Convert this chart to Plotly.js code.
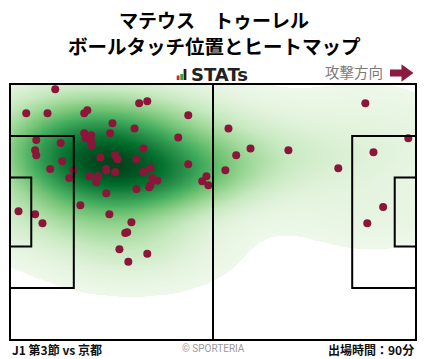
<!DOCTYPE html>
<html><head><meta charset="utf-8">
<script src="https://cdn.plot.ly/plotly-3.0.1.min.js"></script>
<style>html,body{margin:0;padding:0;background:#fff}</style>
</head><body><div id="chart" style="width:428px;height:359px"></div>
<script>
// Ball touch positions (metres; x along 105m pitch, attacking to the right; y from bottom touchline, 68m)
const touchX = [11.7,4.2,9.7,19.2,20.0,33.4,35.5,46.1,26.5,32.2,19.2,21.0,19.5,25.9,21.0,21.0,43.5,6.8,13.1,6.5,6.8,34.5,27.2,27.8,23.4,32.7,13.5,46.1,10.4,16.4,24.9,24.9,27.2,34.5,36.3,20.5,22.8,15.3,22.3,36.8,38.1,50.8,49.7,51.3,36.3,36.0,32.7,24.9,2.2,6.5,8.4,18.2,25.7,31.4,29.8,30.3,28.3,35.5,30.6,91.9,56.5,62.2,58.5,72.0,55.7,84.9,94.0,103.0,96.5,92.4];
const touchY = [66.6,60.2,60.2,60.2,61.0,62.9,63.4,59.7,57.6,56.2,54.9,54.4,53.6,54.9,52.8,51.7,53.8,53.1,52.3,50.4,49.1,50.9,49.1,48.0,48.5,48.0,47.5,46.7,45.4,45.1,45.4,45.0,44.6,44.6,45.6,43.5,43.5,43.0,41.9,43.0,42.4,43.5,42.2,41.1,41.1,40.6,40.1,39.0,34.2,33.4,31.0,35.8,33.4,31.3,28.4,28.6,24.1,22.9,20.8,62.9,56.2,50.9,49.1,50.4,45.1,45.6,49.9,53.6,35.3,31.0];

const titleLines = ["マテウス　トゥーレル", "ボールタッチ位置とヒートマップ"];
const matchLabel = "J1 第3節 vs 京都";
const minutesLabel = "出場時間：90分";
const directionLabel = "攻撃方向";
const creditLabel = "© SPORTERIA";
const logoLabel = "STATs";

const PITCH_L = 105, PITCH_W = 68, BOX_D = 16.5, BOX_W = 40.32, GA_D = 5.5, GA_W = 18.32;
const greens = ['#eef8ea','#e0f2da','#c7e9c0','#a1d99b','#74c476','#41ab5d','#238b45','#006d2c','#00441b'];
const GAMMA = 0.85;
const THRESH = Math.pow(0.033, GAMMA);
const BW_ADJUST = 1.3;

// --- Gaussian KDE (Scott's rule x adjust, full covariance) ---
const n = touchX.length;
const mx = touchX.reduce((a,b)=>a+b,0)/n, my = touchY.reduce((a,b)=>a+b,0)/n;
let sxx=0, syy=0, sxy=0;
for (let i=0;i<n;i++){const dx=touchX[i]-mx, dy=touchY[i]-my; sxx+=dx*dx; syy+=dy*dy; sxy+=dx*dy;}
sxx/=(n-1); syy/=(n-1); sxy/=(n-1);
const f2 = Math.pow(n, -1/3)*BW_ADJUST*BW_ADJUST;
const cxx=sxx*f2, cyy=syy*f2, cxy=sxy*f2;
const det = cxx*cyy - cxy*cxy;
const ia = cyy/det, ib = -cxy/det, ic = cxx/det;
const step = 0.7;
const gx=[], gy=[];
for (let x=0; x<=PITCH_L+1e-9; x+=step) gx.push(+x.toFixed(3));
for (let y=0; y<=PITCH_W+1e-9; y+=step) gy.push(+y.toFixed(3));
const dens = [];
let dmax = 0;
for (let j=0;j<gy.length;j++){
  const row=[];
  for (let i=0;i<gx.length;i++){
    let s=0;
    for (let k=0;k<n;k++){const dx=gx[i]-touchX[k], dy=gy[j]-touchY[k]; s+=Math.exp(-0.5*(ia*dx*dx+2*ib*dx*dy+ic*dy*dy));}
    row.push(s); if (s>dmax) dmax=s;
  }
  dens.push(row);
}
const z = dens.map(r=>r.map(v=>Math.pow(v/dmax, GAMMA)));

const cs = [[0,'#ffffff'],[THRESH-0.0005,'#ffffff']];
greens.forEach((c,i)=>cs.push([THRESH+(1-THRESH)*i/(greens.length-1), c]));

const heat = {type:'heatmap', x:gx, y:gy, z:z, zmin:0, zmax:1, colorscale:cs, showscale:false, zsmooth:'best', hoverinfo:'skip'};
const dots = {type:'scatter', mode:'markers', x:touchX, y:touchY, marker:{size:8, color:'#8c163a', line:{width:0}}, hoverinfo:'skip', cliponaxis:false};

// pixel helpers for header/footer decorations (plot area: x 10..416, y 84..340)
const px = v => (v-10)/406, py = v => (340-v)/256;
const line = {color:'#000', width:2};
const shapes = [
  {type:'rect', xref:'paper', yref:'paper', x0:0, x1:1, y0:0, y1:1, line:line},
  {type:'line', xref:'paper', yref:'paper', x0:0.5, x1:0.5, y0:0, y1:1, line:line},
  {type:'rect', xref:'x', yref:'y', x0:0, x1:BOX_D, y0:(PITCH_W-BOX_W)/2, y1:(PITCH_W+BOX_W)/2, line:line},
  {type:'rect', xref:'x', yref:'y', x0:PITCH_L-BOX_D, x1:PITCH_L, y0:(PITCH_W-BOX_W)/2, y1:(PITCH_W+BOX_W)/2, line:line},
  {type:'rect', xref:'x', yref:'y', x0:0, x1:GA_D, y0:(PITCH_W-GA_W)/2, y1:(PITCH_W+GA_W)/2, line:line},
  {type:'rect', xref:'x', yref:'y', x0:PITCH_L-GA_D, x1:PITCH_L, y0:(PITCH_W-GA_W)/2, y1:(PITCH_W+GA_W)/2, line:line},
  // logo bars
  {type:'rect', xref:'paper', yref:'paper', x0:px(176.7), x1:px(179.5), y0:py(80), y1:py(75.5), fillcolor:'#e0201e', line:{width:0}},
  {type:'rect', xref:'paper', yref:'paper', x0:px(180.3), x1:px(183.1), y0:py(80), y1:py(74), fillcolor:'#3aa13a', line:{width:0}},
  {type:'rect', xref:'paper', yref:'paper', x0:px(183.6), x1:px(186.4), y0:py(80), y1:py(69), fillcolor:'#222', line:{width:0}},
  // direction arrow
  {type:'path', xref:'paper', yref:'paper',
   path:`M ${px(390)} ${py(69.5)} L ${px(401.5)} ${py(69.5)} L ${px(401.5)} ${py(64.3)} L ${px(413.5)} ${py(73)} L ${px(401.5)} ${py(81.7)} L ${px(401.5)} ${py(76.5)} L ${px(390)} ${py(76.5)} Z`,
   fillcolor:'#8b1a40', line:{width:0}}
];

const jp = "'Noto Sans CJK JP', 'Noto Sans', sans-serif";
const annotations = [
  {xref:'paper', yref:'paper', x:px(214), y:py(19.5), xanchor:'center', yanchor:'middle', showarrow:false, text:'<b>'+titleLines[0]+'</b>', font:{family:jp, size:19, color:'#000'}},
  {xref:'paper', yref:'paper', x:px(214), y:py(45.5), xanchor:'center', yanchor:'middle', showarrow:false, text:'<b>'+titleLines[1]+'</b>', font:{family:jp, size:19.5, color:'#000'}},
  {xref:'paper', yref:'paper', x:px(189), y:py(74.5), xanchor:'left', yanchor:'middle', showarrow:false, text:'<b>'+logoLabel+'</b>', font:{family:'DejaVu Sans', size:18, color:'#222'}},
  {xref:'paper', yref:'paper', x:px(385), y:py(71.5), xanchor:'right', yanchor:'middle', showarrow:false, text:directionLabel, font:{family:jp, size:14.5, color:'#7a7a7a'}},
  {xref:'paper', yref:'paper', x:0, y:py(349.5), xanchor:'left', yanchor:'middle', showarrow:false, text:'<b>'+matchLabel+'</b>', font:{family:jp, size:12, color:'#111'}},
  {xref:'paper', yref:'paper', x:px(213), y:py(348.5), xanchor:'center', yanchor:'middle', showarrow:false, text:creditLabel, font:{family:'Roboto, sans-serif', size:10, color:'#9a9a9a'}},
  {xref:'paper', yref:'paper', x:1, y:py(349.5), xanchor:'right', yanchor:'middle', showarrow:false, text:'<b>'+minutesLabel+'</b>', font:{family:jp, size:12, color:'#111'}}
];

const layout = {
  width:428, height:359,
  margin:{l:10, r:12, t:84, b:19, pad:0},
  paper_bgcolor:'#fff', plot_bgcolor:'#fff',
  xaxis:{range:[0,PITCH_L], visible:false, fixedrange:true},
  yaxis:{range:[0,PITCH_W], visible:false, fixedrange:true},
  showlegend:false, shapes:shapes, annotations:annotations
};
Plotly.newPlot('chart', [heat, dots], layout, {staticPlot:true, displayModeBar:false});
</script></body></html>
